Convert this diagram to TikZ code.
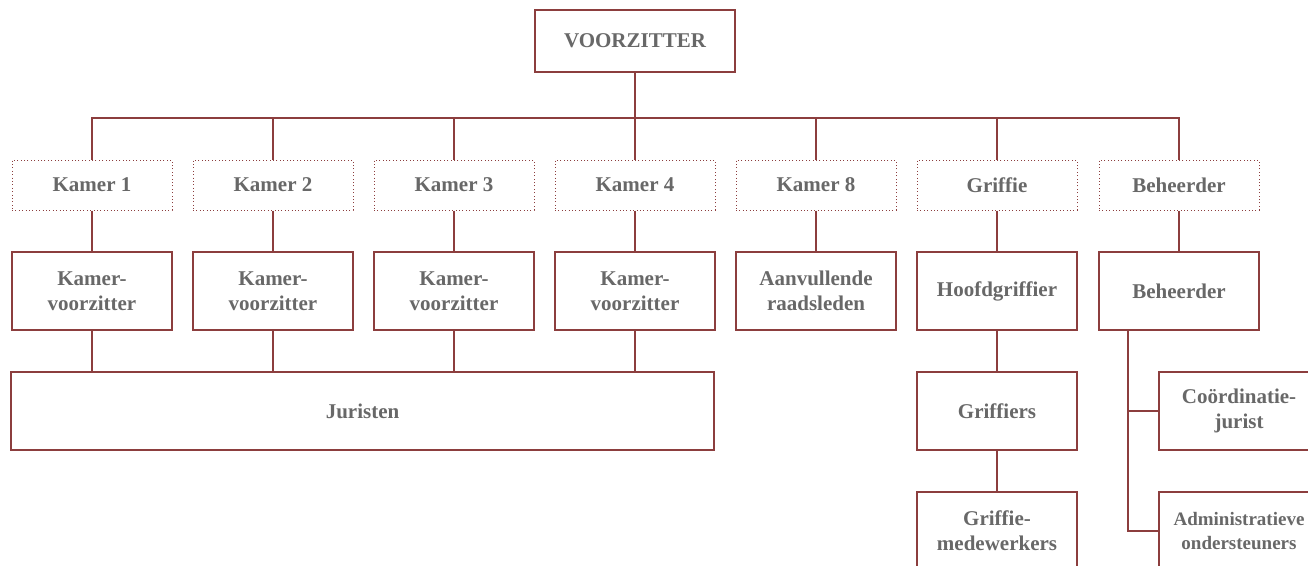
\documentclass[tikz,border=0pt]{standalone}
\usepackage{fontspec}
\setmainfont{Liberation Serif}
\definecolor{lijn}{RGB}{140,62,62}
\definecolor{tekst}{RGB}{104,104,104}

\begin{document}
\begin{tikzpicture}[x=1pt, y=-1pt]

\tikzset{box/.style={draw=lijn, line width=1.2pt, fill=white, minimum width=160pt, minimum height=78pt, inner sep=2pt, align=center, text=tekst, font=\fontsize{21}{25}\selectfont\bfseries}}
\tikzset{dotbox/.style={box, line width=1pt, dash pattern=on 1pt off 2.4pt, minimum height=50pt}}
\tikzset{lijnstijl/.style={draw=lijn, line width=1.2pt}}

\clip (0,0) rectangle (1308,565);

\node[box, minimum width=200pt, minimum height=62pt] (vz) at (635,41) {VOORZITTER};

\node[dotbox] (k1) at (92,185) {Kamer 1};
\node[dotbox] (k2) at (273,185) {Kamer 2};
\node[dotbox] (k3) at (454,185) {Kamer 3};
\node[dotbox] (k4) at (635,185) {Kamer 4};
\node[dotbox] (k8) at (816,185) {Kamer 8};
\node[dotbox] (gf) at (997,185) {Griffie};
\node[dotbox] (bh1) at (1179,185) {Beheerder};

\node[box] (kv1) at (92,291) {Kamer-\\voorzitter};
\node[box] (kv2) at (273,291) {Kamer-\\voorzitter};
\node[box] (kv3) at (454,291) {Kamer-\\voorzitter};
\node[box] (kv4) at (635,291) {Kamer-\\voorzitter};
\node[box] (av) at (816,291) {Aanvullende\\raadsleden};
\node[box] (hg) at (997,291) {Hoofdgriffier};
\node[box] (bh) at (1179,291) {Beheerder};

\node[box, minimum width=703pt] (jur) at (362.5,411) {Juristen};
\node[box] (gr) at (997,411) {Griffiers};
\node[box] (gm) at (997,531) {Griffie-\\medewerkers};
\node[box] (cj) at (1239,411) {Coördinatie-\\jurist};
\node[box, font=\fontsize{19}{24}\selectfont\bfseries] (ao) at (1239,531) {Administratieve\\ondersteuners};

% verbindingen
\coordinate (bus) at (635,118);
\draw[lijnstijl] (vz.south) -- (bus);
\foreach \k in {k1,k2,k3,k4,k8,gf,bh1}
  \draw[lijnstijl] (bus) -| (\k.north);
\foreach \a/\b in {k1/kv1,k2/kv2,k3/kv3,k4/kv4,k8/av,gf/hg,bh1/bh}
  \draw[lijnstijl] (\a.south) -- (\b.north);
\foreach \a in {kv1,kv2,kv3,kv4}
  \draw[lijnstijl] (\a.south) -- (\a.south |- jur.north);
\draw[lijnstijl] (hg.south) -- (gr.north);
\draw[lijnstijl] (gr.south) -- (gm.north);
\coordinate (tak) at ([xshift=29.5pt]bh.south west);
\draw[lijnstijl] (tak) |- (cj.west);
\draw[lijnstijl] (tak) |- (ao.west);
\end{tikzpicture}
\end{document}
